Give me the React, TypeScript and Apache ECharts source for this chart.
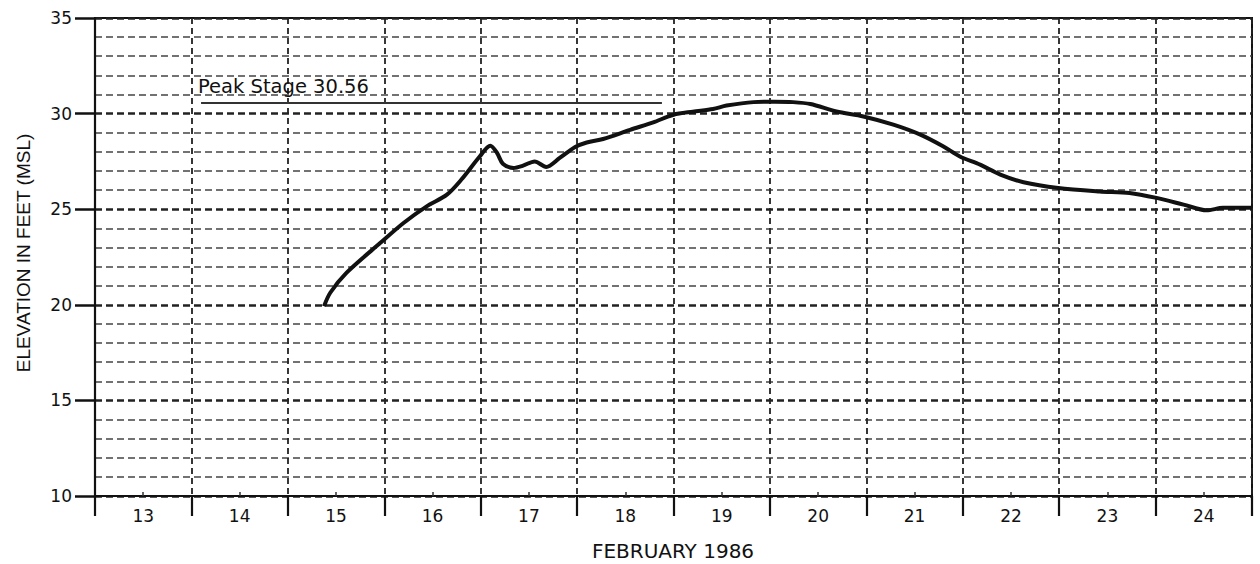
import React, { useEffect, useRef } from "react";
import * as echarts from "echarts";

const dayLabels = ["13", "14", "15", "16", "17", "18", "19", "20", "21", "22", "23", "24"];
const yTicks = [10, 15, 20, 25, 30, 35];

// time in days (Feb 13 starts at 13), elevation in feet (MSL)
const days = [
  15.375, 15.44, 15.61, 15.96, 16.2, 16.44, 16.65, 16.8, 16.99, 17.1, 17.17, 17.23, 17.34, 17.44,
  17.56, 17.68, 17.82, 17.98, 18.1, 18.27, 18.55, 18.79, 19.0, 19.2, 19.41, 19.55, 19.83, 20.05,
  20.24, 20.42, 20.69, 20.97, 21.28, 21.56, 21.8, 21.97, 22.18, 22.39, 22.63, 22.99, 23.42, 23.73,
  24.01, 24.29, 24.53, 24.7, 25.0,
];
const elevation = [
  19.92, 20.63, 21.68, 23.24, 24.28, 25.15, 25.76, 26.55, 27.76, 28.32, 27.94, 27.38, 27.16, 27.28,
  27.5, 27.21, 27.68, 28.25, 28.49, 28.67, 29.15, 29.54, 29.94, 30.1, 30.24, 30.42, 30.6, 30.62,
  30.6, 30.5, 30.11, 29.85, 29.42, 28.9, 28.28, 27.76, 27.33, 26.81, 26.41, 26.11, 25.93, 25.85,
  25.59, 25.24, 24.94, 25.07, 25.07,
];

const peakStage = 30.56;
const peakLineStart = 14.1;
const peakLineEnd = 18.88;
const peakLabel = "Peak Stage 30.56";

const FONT = "'DejaVu Sans', 'Liberation Sans', sans-serif";

export default function App() {
  const ref = useRef<HTMLDivElement>(null);
  useEffect(() => {
    if (!ref.current) return;
    const chart = echarts.init(ref.current, undefined, { renderer: "svg" });
    const data = days.map((d, i) => [d, elevation[i]]);
    chart.setOption({
      animation: false,
      backgroundColor: "#ffffff",
      grid: {
        left: 95,
        right: 8,
        top: 18,
        bottom: 68,
        show: true,
        borderColor: "#111",
        borderWidth: 2,
        backgroundColor: "transparent",
      },
      xAxis: [
        {
          type: "value",
          min: 13,
          max: 25,
          interval: 1,
          position: "bottom",
          axisLine: { show: true, lineStyle: { color: "#111", width: 2.2 } },
          axisTick: { show: true, length: 20, lineStyle: { color: "#111", width: 2.2 } },
          minorTick: { show: true, splitNumber: 2, length: -4, lineStyle: { color: "#333", width: 1.5 } },
          axisLabel: { show: false },
          splitLine: { show: true, lineStyle: { type: [6, 4], color: "#222", width: 1.8 } },
        },
        {
          type: "category",
          data: dayLabels,
          boundaryGap: true,
          position: "bottom",
          axisLine: { show: false },
          axisTick: { show: false },
          splitLine: { show: false },
          axisLabel: { margin: 11, fontSize: 17, color: "#111", fontFamily: FONT },
        },
      ],
      yAxis: {
        type: "value",
        min: yTicks[0],
        max: yTicks[yTicks.length - 1],
        interval: 5,
        axisLine: { show: true, lineStyle: { color: "#111", width: 2.2 } },
        axisTick: { show: true, length: 20, lineStyle: { color: "#111", width: 2.5 } },
        axisLabel: { margin: 23, fontSize: 17, color: "#111", fontFamily: FONT },
        splitLine: { show: true, lineStyle: { type: [7, 4], color: "#222", width: 2.6 } },
        minorTick: { show: false, splitNumber: 5 },
        minorSplitLine: { show: true, lineStyle: { type: [7, 4], color: "#444", width: 1.7 } },
      },
      series: [
        {
          type: "line",
          xAxisIndex: 0,
          data,
          showSymbol: false,
          smooth: 0.3,
          lineStyle: { color: "#111", width: 4 },
          markLine: {
            silent: true,
            symbol: ["none", "none"],
            lineStyle: { type: "solid", color: "#333", width: 1.8 },
            label: {
              show: true,
              position: "insideStartTop",
              formatter: peakLabel,
              fontSize: 19.5,
              color: "#111",
              fontFamily: FONT,
              distance: [-3, 6],
            },
            data: [[{ coord: [peakLineStart, peakStage] }, { coord: [peakLineEnd, peakStage] }]],
          },
        },
      ],
      graphic: [
        {
          type: "text",
          x: 23,
          y: 253,
          rotation: Math.PI / 2,
          style: {
            text: "ELEVATION IN FEET (MSL)",
            fontSize: 19,
            fontFamily: "'Liberation Sans', sans-serif",
            fill: "#111",
            align: "center",
            verticalAlign: "middle",
          },
        },
        {
          type: "text",
          x: 673,
          y: 551,
          style: {
            text: "FEBRUARY 1986",
            fontSize: 20,
            fontFamily: FONT,
            fill: "#111",
            align: "center",
            verticalAlign: "middle",
          },
        },
      ],
    });
    return () => chart.dispose();
  }, []);
  return (
    <div
      ref={ref}
      style={{ position: "fixed", left: 0, top: 0, width: 1260, height: 564, background: "#fff" }}
    />
  );
}
